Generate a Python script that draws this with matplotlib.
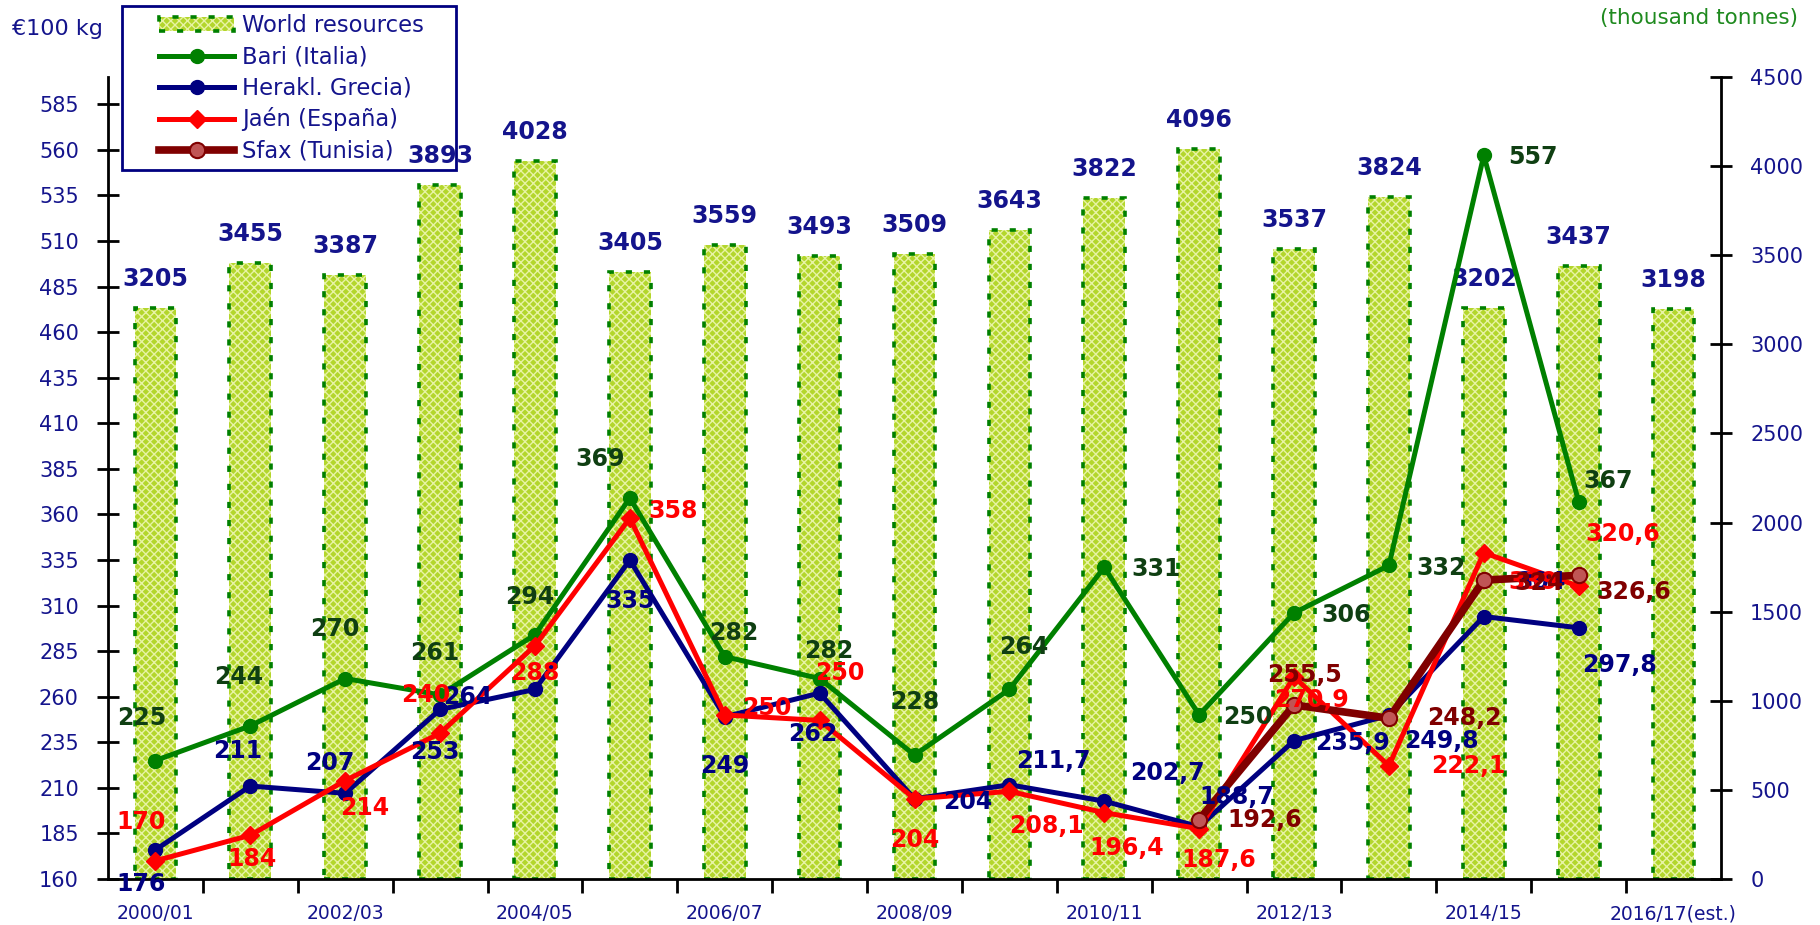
import matplotlib
matplotlib.use("Agg")
import matplotlib.pyplot as plt
from matplotlib.patches import Patch
from matplotlib.lines import Line2D
from matplotlib.legend_handler import HandlerLine2D, HandlerTuple
import numpy as np

# --- data ---
seasons = ["2000/01", "2001/02", "2002/03", "2003/04", "2004/05", "2005/06",
           "2006/07", "2007/08", "2008/09", "2009/10", "2010/11", "2011/12",
           "2012/13", "2013/14", "2014/15", "2015/16", "2016/17(est.)"]
world_resources = [3205, 3455, 3387, 3893, 4028, 3405, 3559, 3493, 3509,
                   3643, 3822, 4096, 3537, 3824, 3202, 3437, 3198]
bari = [225, 244, 270, 261, 294, 369, 282, 270, 228, 264, 331, 250, 306,
        332, 557, 367]
bari_labels = ["225", "244", "270", "261", "294", "369", "282", "282", "228",
               "264", "331", "250", "306", "332", "557", "367"]
herakl = [176, 211, 207, 253, 264, 335, 249, 262, 204, 211.7, 202.7, 188.7,
          235.9, 249.8, 304, 297.8]
jaen = [170, 184, 214, 240, 288, 358, 250, 247, 204, 208.1, 196.4, 187.6,
        270.9, 222.1, 339, 320.6]
jaen_labels = ["170", "184", "214", "240", "288", "358", "250", "250", "204",
               "208,1", "196,4", "187,6", "270,9", "222,1", "339", "320,6"]
sfax_start = 11
sfax = [192.6, 255.5, 248.2, 324, 326.6]


def fmt(v):
    if float(v).is_integer():
        return str(int(v))
    return str(v).replace(".", ",")


# label offsets in pixels (dx, dy up)
bari_off = [(-14, 43), (-12, 49), (-10, 49), (-5, 42), (-5, 38), (-30, 39),
            (9, 24), (9, 27), (0, 53), (14, 42), (52, -2), (49, -2),
            (52, -2), (52, -3), (49, -2), (29, 21)]
herakl_off = [(-14, -34), (-13, 35), (-15, 30), (-5, -43), (-67, -8),
              (0, -41), (0, -49), (-7, -41), (53, -3), (44, 24), (63, 28),
              (38, 30), (58, -2), (53, -26), (57, 35), (41, -37)]
jaen_off = [(-14, 39), (2, -24), (19, -27), (-14, 38), (0, -27), (43, 7),
            (42, 7), (20, 47), (0, -41), (37, -35), (22, -35), (20, -31),
            (17, -23), (79, 0), (49, -29), (44, 52)]
sfax_off = [(66, 0), (10, 30), (75, 0), (55, -3), (55, -17)]

navy = "#000080"
txt_navy = "#14148c"
green = "#008000"
dkgreen = "#0f3f12"
red = "#ff0000"
maroon = "#800000"
bar_fill = "#b3d62c"
bar_hatch = "#e8f3a6"
bar_dash = (0, (1.7, 3.3))

plt.rcParams["font.family"] = ["DejaVu Sans"]

fig = plt.figure(figsize=(18.2, 9.25), dpi=100)
ax = fig.add_axes([108 / 1820, 46 / 925, 1613 / 1820, 802 / 925])
ax2 = ax.twinx()
ax.set_zorder(ax2.get_zorder() + 1)
ax.patch.set_visible(False)
ax2.patch.set_visible(False)

x = np.arange(len(seasons))

# bars on the right axis: texture first, then dashed outline
ax2.bar(x, world_resources, width=0.44, color=bar_fill, hatch="xxxx",
        edgecolor=bar_hatch, linewidth=0)
ax2.bar(x, world_resources, width=0.44, fill=False, edgecolor=green,
        linewidth=2.6, linestyle=bar_dash)
for xi, v in zip(x, world_resources):
    ax2.annotate(str(v), (xi, v), xytext=(0, 29), textcoords="offset pixels",
                 ha="center", va="center", fontsize=17, fontweight="bold",
                 color=txt_navy)

xb = x[:len(bari)]
ax.plot(xb, bari, color=green, lw=3.6, marker="o", ms=10, label="Bari (Italia)")
ax.plot(xb, herakl, color=navy, lw=3.6, marker="o", ms=10,
        label="Herakl. Grecia)")
ax.plot(xb, jaen, color=red, lw=3.6, marker="D", ms=9, label="Jaén (España)")
xs = x[sfax_start:sfax_start + len(sfax)]
ax.plot(xs, sfax, color=maroon, lw=5.5, marker="o", ms=11,
        markerfacecolor="#c05555", markeredgecolor=maroon, mew=1.5,
        label="Sfax (Tunisia)")

label_kw = dict(textcoords="offset pixels", ha="center", va="center",
                fontsize=17, fontweight="bold")
for xi, v, t, o in zip(xb, bari, bari_labels, bari_off):
    ax.annotate(t, (xi, v), xytext=o, color=dkgreen, **label_kw)
for xi, v, o in zip(xb, herakl, herakl_off):
    ax.annotate(fmt(v), (xi, v), xytext=o, color=navy, **label_kw)
for xi, v, t, o in zip(xb, jaen, jaen_labels, jaen_off):
    ax.annotate(t, (xi, v), xytext=o, color=red, **label_kw)
for xi, v, o in zip(xs, sfax, sfax_off):
    ax.annotate(fmt(v), (xi, v), xytext=o, color=maroon, **label_kw)

# axes
ax.set_xlim(-0.5, len(seasons) - 0.5)
ax.set_ylim(160, 600)
ax2.set_ylim(0, 4500)
ax.set_yticks(np.arange(160, 586, 25))
ax2.set_yticks(np.arange(0, 4501, 500))
ax.set_xticks(np.arange(0.5, len(seasons) - 1, 1))
ax.set_xticklabels([])
ax.set_xticks(x[::2], minor=True)
ax.set_xticklabels(seasons[::2], minor=True)
ax.tick_params(axis="x", which="major", direction="out", length=10, width=2)
ax.tick_params(axis="x", which="minor", length=0, pad=18, labelsize=13.5,
               labelcolor=txt_navy)
ax.tick_params(axis="y", direction="inout", length=16, width=2, pad=13,
               labelsize=15, labelcolor=txt_navy)
ax2.tick_params(axis="y", direction="inout", length=16, width=2, pad=13,
                labelsize=15, labelcolor=txt_navy)

for a in (ax, ax2):
    a.spines["top"].set_visible(False)
    for s in ("left", "right", "bottom"):
        a.spines[s].set_linewidth(2)
ax.spines["right"].set_visible(False)
ax2.spines["left"].set_visible(False)
ax2.spines["bottom"].set_visible(False)

# legend (drawn under the axes so the 3893 label sits on top of it)
bar_face = Patch(facecolor=bar_fill, hatch="xxxx", edgecolor=bar_hatch,
                 linewidth=0)
bar_edge = Patch(fill=False, edgecolor=green, linewidth=2.6,
                 linestyle=bar_dash)
handles, labels = ax.get_legend_handles_labels()
leg = fig.legend([(bar_face, bar_edge)] + handles,
                 ["World resources"] + labels,
                 loc="upper left",
                 bbox_to_anchor=(122 / 1820, 1 - 174 / 925, 334 / 1820,
                                 168 / 925),
                 mode="expand",
                 fontsize=16.3, handlelength=4.6, handleheight=0.55,
                 labelspacing=0.36, borderpad=0.35, handletextpad=0.35,
                 fancybox=False, framealpha=1, edgecolor=navy,
                 borderaxespad=0,
                 handler_map={Line2D: HandlerLine2D(xpad=1.3),
                              tuple: HandlerTuple(xpad=1.3)})
leg.get_frame().set_linewidth(2)
leg.set_zorder(-1)
for t in leg.get_texts():
    t.set_color(txt_navy)

fig.text(12 / 1820, 1 - 29 / 925, "€100 kg", fontsize=16, color=txt_navy,
         ha="left", va="center")
fig.text(1798 / 1820, 1 - 18 / 925, "(thousand tonnes)", fontsize=15.5,
         color="#1f8a1f", ha="right", va="center")

fig.savefig("out.png", dpi=100)
